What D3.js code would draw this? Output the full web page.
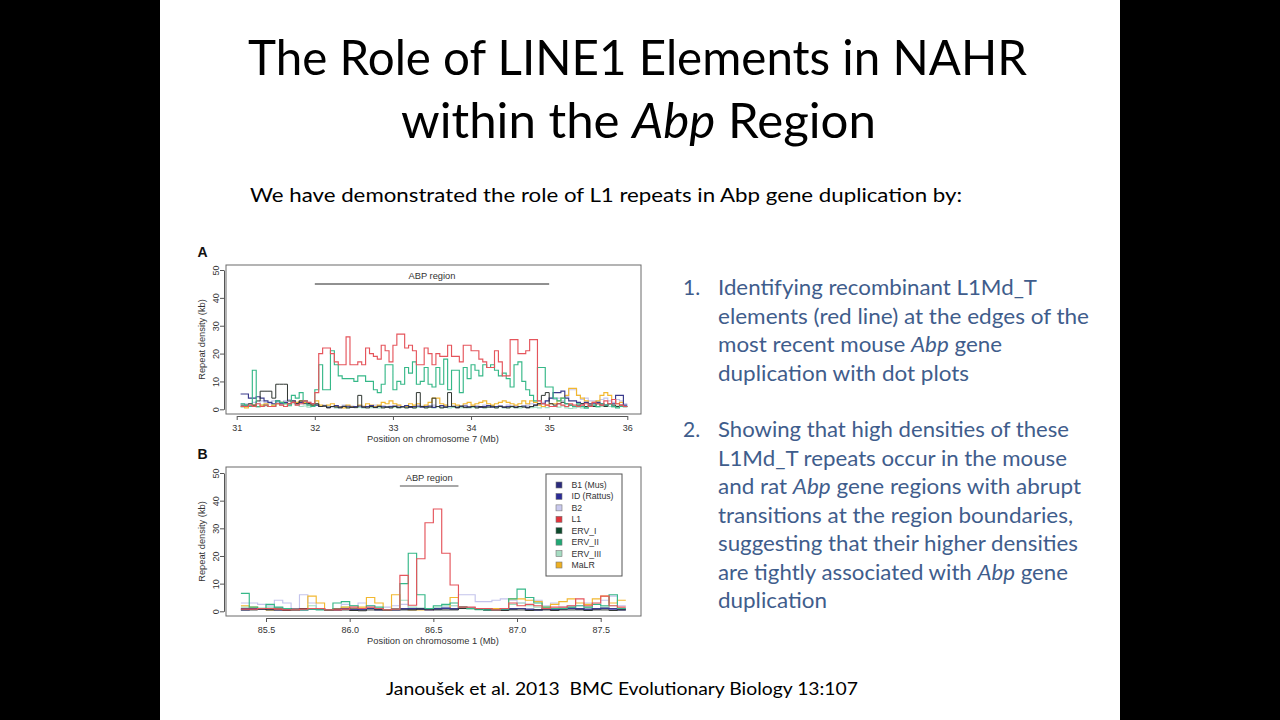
<!DOCTYPE html>
<html><head><meta charset="utf-8">
<script src="https://cdn.jsdelivr.net/npm/d3@7"></script>
<style>html,body{margin:0;padding:0;background:#000;} svg{display:block} text{white-space:pre}</style>
</head><body>
<svg id="s" width="1280" height="720"></svg>
<script>
// ---------------- DATA ----------------
const seriesNames = ["B1 (Mus)","ID (Rattus)","B2","L1","ERV_I","ERV_II","ERV_III","MaLR"];
const seriesColors = ["#2a2a7c","#2b2b96","#c9c9ee","#e0343c","#0c4a2c","#1fa874","#a6dcc2","#eeb022"];
const lineColors  = ["#3a3a8c","#34349e","#c4c4ec","#e5555c","#2e3530","#36b888","#a0dcc0","#f2b830"];
const drawOrder = ["B2","ERV_III","MaLR","ID (Rattus)","B1 (Mus)","ERV_I","ERV_II","L1"];

const yTicks = [0,10,20,30,40,50];
const xTicksA = [31,32,33,34,35,36];
const xTicksB = [85.5,86.0,86.5,87.0,87.5];

// Panel A: mouse chromosome 7, 50 kb windows starting at 31.05 Mb
const binStartA = 31.05, binWidthA = 0.05;
const regionA = [32.0, 35.0];
const L1_A = [1,1,1.5,1,2,1,1.5,1,1,2, 1.5,1,2,2.5,1.5,2,3,2.5,2,6,
  20,22,22,20,17,16,16,26,16,16, 17,16,22,20,19,18,23,21,17,23,
  27,27,22,23,21,16,16,22,20,16, 20,19,19,23,19,19,17,23,23,21,
  21,18,17,15,15,21,17,12,12,25, 25,20,20,21,25,25,3,2,1.5,1,
  1,2,1.5,1,2,1.5,1,1.5,2,1, 2.5,2,1.5,3,2,3.5,2,1.5,1];
const ERVII_A = [2,1.5,1,14,1,1,1.5,1,1,3, 2.5,2,1.5,5,4,6,3,1.5,1,7,
  16,7,7,21,16,12,11,11,11,10, 12,12,10,10,7,6,9,16,16,7,
  10,9,15,13,17,9,10,15,9,8, 15,9,18,7,14,14,6,15,11,16,
  14,12,16,15,16,14,12,13,11,8, 16,17,10,7,5,3,15,15,8,8,
  4,3,4,2,1.5,1,2,1,0.5,1, 1.5,1,2,1.5,2,1,0.5,1,1];
const ERVI_A = [1.5,1.5,2,1.5,3,6.5,6.5,6.5,4,9, 9,9,3,2.5,2,3,2,2,1.5,2,
  1,1.2,0.5,1,0.8,0.5,1.1,0.5,0.8,0.6, 5,0.8,0.5,1,0.6,1.1,0.5,0.8,0.5,1,
  0.6,0.8,0.5,1,0.5,6,1,0.5,0.8,4, 1,0.5,0.8,6,1,0.5,1.2,0.6,0.8,1,
  0.5,1,0.6,0.8,1.1,0.5,1,0.8,0.5,1, 0.6,1,0.8,0.5,1,1.5,2,5,6,2,
  1.5,2,2.5,2,1.5,1,1.5,2,1,1.5, 1,2,1.5,1,2,1.5,1,1.5,1];
const B1_A = [5.5,5.5,4,4,4.5,4,3,2.5,2,3, 2,2.5,2,3,2,2.5,3,2,2,1.5,
  1,1.2,0.7,1,1.3,0.8,1,1.1,0.7,1, 1.2,0.8,1,1.3,0.7,1,1.1,0.8,1,1.2,
  0.8,1,1.3,0.7,1,1.1,0.8,1,1.2,0.7, 1,1.3,0.8,1,1.1,0.7,1,1.2,0.8,1,
  1.1,0.7,1,1.3,0.8,1,1.2,0.7,1,1.1, 0.8,1,1.2,0.7,1,1.5,2,2,3,4,
  6,6,6.5,4,3,3,2.5,2,2.5,2, 2,2.5,2,1.5,2,2,5,5,1.5];
const MaLR_A = [1,0.5,1,1.5,1,1.5,2,1,1.5,2, 2.5,2,2,3,2.5,3,2.5,2,1.5,3,
  1.5,1,1.5,2,1,1,0.5,1.5,1,1, 1.5,1,2,1.5,1,1.5,2.5,2,3,2,
  1.5,1,1,2,1.5,2,1,1.5,2.5,4, 4,2,1.5,1,2,1.5,1,2,2.5,1.5,
  2,2.5,3,2,1.5,2,2.5,3,2.5,2, 1.5,2,3,2,3,2.5,1.5,1,1.5,2,
  2,3,4,5,7.5,7.5,5,4,3,2, 2.5,3,5,6,5,3.5,2,2.5,1];
const B2_A = [2,2,1.5,2.5,2,3,2.5,2,3,2.5, 2,3,3.5,3,2.5,2,3,2.5,2,1.5,
  1,1.5,1,0.8,1.2,1,1.5,1,1.2,0.8, 1,1.2,0.8,1,1.5,1.2,1,0.8,1.2,1,
  1.5,1,1.2,0.8,1,1.5,1.2,1,0.8,1.5, 1,1.2,1.5,1,0.8,1.2,1,1.5,1,1.2,
  0.8,1,1.5,1.2,1,0.8,1.2,1,1.5,1, 1.2,0.8,1,1.5,2,2.5,3,2.5,3,4,
  3.5,4,3,4.5,7,7,5,3.5,4,3, 3,2.5,3.5,4,3,2.5,3.5,3,2];
const ERVIII_A = [0.8,1,1.2,1,0.8,1.5,1.2,1,1.5,2, 1.5,1,1.2,2,1.5,1,1.2,0.8,1,1.5,
  1,1.2,0.8,1,0.5,0.8,1,0.6,0.8,1, 0.7,0.5,0.9,0.6,0.8,0.5,0.7,1,0.6,0.8,
  0.5,0.9,0.6,0.7,0.5,0.8,1,0.6,0.7,0.5, 0.9,0.6,0.8,0.5,0.7,0.9,0.6,0.8,0.5,0.7,
  0.6,0.9,0.5,0.8,0.7,0.6,0.9,0.5,0.7,0.8, 0.6,0.5,0.9,0.7,0.6,0.8,0.5,0.9,0.6,1,
  1,0.8,1.2,0.5,0.3,0.5,0.8,0.5,0.3,1, 1.2,0.8,1,1.5,1,0.8,1.2,1,0.8];

// Panel B: rat chromosome 1, 50 kb windows starting at 85.35 Mb
const binStartB = 85.35, binWidthB = 0.05;
const regionB = [86.30, 86.65];
const L1_B = [0.8,0.8,1,1,0.8,0.5,0.5,0.8,1,1, 0.5,0.5,0.8,1.5,1,1.5,1,0.5,0.8,13,
  2.2,19,32,37,21,9.5,1.5,1.5,1,1, 0.5,1,3,2,2.5,2,1,1.5,1.5,2, 4.5,2,3,5.5,2,1.5];
const ERVII_B = [6.5,1.5,1,2.5,1.5,1,0.5,0.5,0.8,0.5, 0.5,3,3.5,2,1,2,1.5,0.5,0.8,10,
  21,6,1,2,2.5,3,1.5,1,0.8,0.5, 0.5,0.8,4.5,8,5,3,1.5,1,1,1.5, 2,1.5,2.5,2,6,1];
const MaLR_B = [2,1.5,1,0.5,1,0.5,0.8,1,5.5,3, 0.5,1,1.5,1,1.5,5,3,0.5,6,1,
  0.5,0.5,0.5,1,1,5,1.5,1,0.8,0.5, 1,1,4.5,4.5,4,3.5,1.5,2.5,3.5,4.5, 3,2.5,4.5,5.5,3,4];
const B2_B = [3,3,2.5,2,4,3,1,6,3,1, 0.5,1,2.5,2,3,2,1,1.5,2,2.5,
  0.5,0.8,0.5,1,1.5,2,6,6,3.5,3.5, 4,4.5,4,3,5,4,2,3,1.5,2, 2,3,1,4,5.5,2];
const ERVIII_B = [1.5,1,1.2,1.5,1,0.8,0.5,1,2,1, 0.5,1,1.5,2,1,1.2,0.8,0.5,1,4,
  1.5,1.2,1,1.5,2,2,1,0.8,0.5,0.5, 0.5,1,2.5,3,2,1.5,1,0.8,1,1.5, 1,1.5,1,1.5,2,1];
const ERVI_B = [0.5,0.5,0.8,0.5,0.5,0.3,0.5,1,1,1, 0.3,0.5,0.5,0.3,0.2,0.5,0.5,0.3,0.5,0.5,
  0.5,0.8,0.8,0.5,0.5,0.5,1,1,0.8,0.5, 0.5,0.3,0.5,0.5,0.3,0.5,0.5,0.3,0.5,0.5, 0.5,0.3,0.5,0.5,0.3,0.5];
const B1_B = [1,1,0.8,1,1.2,1,0.8,0.5,0.8,1, 0.5,0.8,1,0.8,0.5,1,0.8,0.5,0.8,1,
  0.8,1,1,1,1.2,1,1.5,1.2,1,0.8, 0.5,0.8,1,1,0.8,0.5,1,0.8,1,1.2, 1,0.8,1,1.2,1,0.8];
const ID_B = [0.5,0.8,1,0.8,0.5,0.8,0.5,0.8,1,0.8, 0.5,0.5,0.8,0.5,0.8,1,0.5,0.5,0.5,0.8,
  1,0.8,0.5,0.8,1,0.8,1,1,0.8,0.5, 0.5,0.5,0.8,1,0.5,0.5,0.8,0.5,0.8,1, 0.8,0.5,0.8,1,0.8,0.5];

// ---------------- SLIDE ----------------
const svg = d3.select("#s");
svg.append("rect").attr("width",1280).attr("height",720).attr("fill","#000");
svg.append("rect").attr("x",160).attr("y",0).attr("width",960).attr("height",720).attr("fill","#fff");

const SLIDE_FONT = "Lato, 'Open Sans', sans-serif";
function richText(x, y, str, size, color, len, weight){
  const t = svg.append("text").attr("x",x).attr("y",y)
    .attr("font-family",SLIDE_FONT).attr("font-size",size).attr("fill",color);
  if (weight) t.attr("font-weight",weight);
  str.split("*").forEach((p,i)=>{ if(p.length) t.append("tspan").text(p).attr("font-style", i%2 ? "italic" : null); });
  if (len) t.attr("textLength",len).attr("lengthAdjust","spacingAndGlyphs");
  return t;
}
richText(248,75,"The Role of LINE1 Elements in NAHR",49,"#000",779);
richText(401,138,"within the *Abp* Region",49,"#000",475);
richText(250,202,"We have demonstrated the role of L1 repeats in Abp gene duplication by:",18.5,"#000",712);

const listColor = "#3f5d8c";
const item1 = ["Identifying recombinant L1Md_T","elements (red line) at the edges of the","most recent mouse *Abp* gene","duplication with dot plots"];
const item1Len = [319,371,284,251];
const item2 = ["Showing that high densities of these","L1Md_T repeats occur in the mouse","and rat *Abp* gene regions with abrupt","transitions at the region boundaries,","suggesting that their higher densities","are tightly associated with *Abp* gene","duplication"];
const item2Len = [351,349,363,355,360,350,109];
richText(683,295,"1.",21,listColor);
item1.forEach((s,i)=>richText(718,295+i*28.5,s,21,listColor,item1Len[i]));
richText(683,437,"2.",21,listColor);
item2.forEach((s,i)=>richText(718,437+i*28.5,s,21,listColor,item2Len[i]));

richText(386,695,"Janoušek et al. 2013  BMC Evolutionary Biology 13:107",17,"#000",472);

// ---------------- PANELS ----------------
const PF = "'Liberation Sans', Arial, sans-serif";
function drawPanel(cfg){
  const g = svg.append("g");
  const x = d3.scaleLinear().domain(cfg.xDom).range(cfg.xRange);
  const y = d3.scaleLinear().domain([0,50]).range(cfg.yRange);
  const clipId = "clip"+cfg.label;
  svg.append("clipPath").attr("id",clipId).append("rect")
    .attr("x",cfg.box[0]).attr("y",cfg.box[1]).attr("width",cfg.box[2]-cfg.box[0]).attr("height",cfg.box[3]-cfg.box[1]);

  const line = d3.line().x(d=>x(d[0])).y(d=>y(d[1])).curve(d3.curveStepAfter);
  const lg = g.append("g").attr("clip-path","url(#"+clipId+")");
  drawOrder.forEach(name=>{
    const vals = cfg.series[name];
    if(!vals) return;
    const k = seriesNames.indexOf(name);
    const pts = vals.map((v,i)=>[cfg.start + i*cfg.width, v]);
    pts.push([cfg.start + vals.length*cfg.width, vals[vals.length-1]]);
    lg.append("path").attr("d",line(pts)).attr("fill","none")
      .attr("stroke",lineColors[k]).attr("stroke-width", name==="ERV_I" ? 1 : 1.15);
  });

  // box
  g.append("rect").attr("x",cfg.box[0]).attr("y",cfg.box[1])
    .attr("width",cfg.box[2]-cfg.box[0]).attr("height",cfg.box[3]-cfg.box[1])
    .attr("fill","none").attr("stroke","#6a6a6a").attr("stroke-width",1);

  // y axis
  const ya = g.append("g").attr("transform","translate(224,0)")
    .call(d3.axisLeft(y).tickValues(yTicks).tickSize(4).tickSizeOuter(0));
  ya.selectAll("path,line").attr("stroke","#555");
  ya.selectAll("text").attr("x",null).attr("dy",null).attr("text-anchor","middle")
    .attr("transform","translate(-5.5,0) rotate(-90)")
    .attr("font-family",PF).attr("font-size",9).attr("fill","#333");
  // x axis
  const xa = g.append("g").attr("transform","translate(0,"+cfg.axisY+")")
    .call(d3.axisBottom(x).tickValues(cfg.xTicks).tickSize(4).tickSizeOuter(0).tickPadding(4.5).tickFormat(cfg.fmt));
  xa.selectAll("path,line").attr("stroke","#555");
  xa.selectAll("text").attr("font-family",PF).attr("font-size",9).attr("fill","#333");

  g.append("text").attr("x",433).attr("y",cfg.axisY+26).attr("text-anchor","middle")
    .attr("font-family",PF).attr("font-size",9.3).attr("fill","#333").text(cfg.xTitle);
  const cy = (cfg.box[1]+cfg.box[3])/2;
  g.append("text").attr("transform","translate(205,"+cy+") rotate(-90)").attr("text-anchor","middle")
    .attr("font-family",PF).attr("font-size",9.3).attr("fill","#333").text("Repeat density (kb)");
  g.append("text").attr("x",197.5).attr("y",cfg.box[1]-8).attr("font-family",PF)
    .attr("font-size",14).attr("font-weight","bold").attr("fill","#111").text(cfg.label);

  // ABP region
  g.append("line").attr("x1",x(cfg.region[0])).attr("x2",x(cfg.region[1]))
    .attr("y1",cfg.regionY).attr("y2",cfg.regionY).attr("stroke",cfg.regionColor).attr("stroke-width",cfg.regionW);
  g.append("text").attr("x",(x(cfg.region[0])+x(cfg.region[1]))/2).attr("y",cfg.regionY-5.5)
    .attr("text-anchor","middle").attr("font-family",PF).attr("font-size",9.3).attr("fill","#333").text("ABP region");
  return {g,x,y};
}

drawPanel({label:"A", xDom:[31,36], xRange:[236.7,627.3], yRange:[409.3,270], box:[226,265,641,414],
  axisY:416, xTicks:xTicksA, fmt:d3.format("d"), xTitle:"Position on chromosome 7 (Mb)",
  start:binStartA, width:binWidthA, region:regionA, regionY:284, regionColor:"#222", regionW:1,
  series:{"L1":L1_A,"ERV_II":ERVII_A,"ERV_I":ERVI_A,"B1 (Mus)":B1_A,"MaLR":MaLR_A,"B2":B2_A,"ERV_III":ERVIII_A}});

const pB = drawPanel({label:"B", xDom:[85.5,87.5], xRange:[266,600.7], yRange:[611.3,473], box:[226,467,641,616],
  axisY:618, xTicks:xTicksB, fmt:d3.format(".1f"), xTitle:"Position on chromosome 1 (Mb)",
  start:binStartB, width:binWidthB, region:regionB, regionY:486, regionColor:"#8a8a8a", regionW:1.6,
  series:{"L1":L1_B,"ERV_II":ERVII_B,"ERV_I":ERVI_B,"B1 (Mus)":B1_B,"ID (Rattus)":ID_B,"MaLR":MaLR_B,"B2":B2_B,"ERV_III":ERVIII_B}});

// legend
const leg = pB.g.append("g");
leg.append("rect").attr("x",546).attr("y",474).attr("width",76).attr("height",102)
  .attr("fill","#fff").attr("stroke","#555").attr("stroke-width",1);
seriesNames.forEach((n,i)=>{
  const yy = 485 + i*11.43;
  leg.append("rect").attr("x",556).attr("y",yy-3).attr("width",6).attr("height",6)
    .attr("fill",seriesColors[i]).attr("stroke","#777").attr("stroke-width",0.6);
  leg.append("text").attr("x",571.5).attr("y",yy+3).attr("font-family",PF).attr("font-size",8.7)
    .attr("fill","#333").text(n);
});
</script>
</body></html>
